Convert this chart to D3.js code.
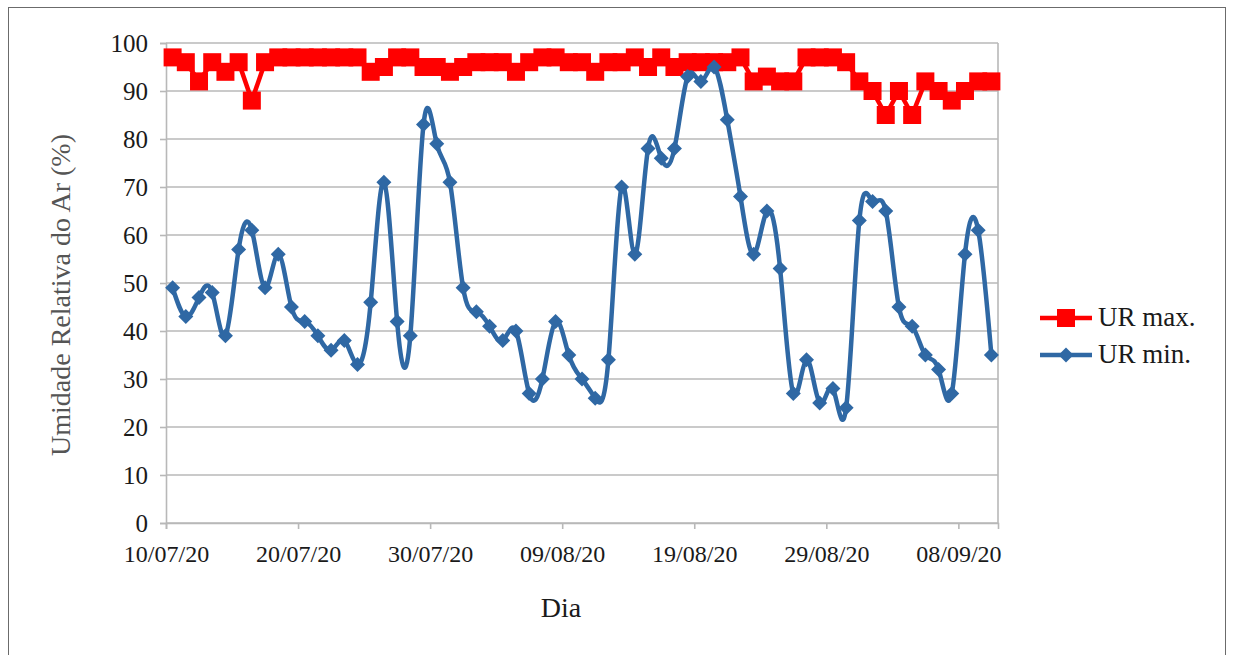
<!DOCTYPE html>
<html>
<head>
<meta charset="utf-8">
<script src="https://cdn.jsdelivr.net/npm/d3@7"></script>
<style>
  html, body { margin: 0; padding: 0; background: #fff; }
  svg { display: block; }
</style>
</head>
<body>
<svg id="chart" width="1234" height="655"></svg>
<script>
// Daily relative humidity, 10/07/2020 to 10/09/2020
const startDate = "10/07/20";
const urMax = [97, 96, 92, 96, 94, 96, 88, 96, 97, 97, 97, 97, 97, 97, 97, 94, 95, 97, 97, 95,
               95, 94, 95, 96, 96, 96, 94, 96, 97, 97, 96, 96, 94, 96, 96, 97, 95, 97, 95, 96,
               96, 96, 96, 97, 92, 93, 92, 92, 97, 97, 97, 96, 92, 90, 85, 90, 85, 92, 90, 88,
               90, 92, 92];
const urMin = [49, 43, 47, 48, 39, 57, 61, 49, 56, 45, 42, 39, 36, 38, 33, 46, 71, 42, 39, 83,
               79, 71, 49, 44, 41, 38, 40, 27, 30, 42, 35, 30, 26, 34, 70, 56, 78, 76, 78, 93,
               92, 95, 84, 68, 56, 65, 53, 27, 34, 25, 28, 24, 63, 67, 65, 45, 41, 35, 32, 27,
               56, 61, 35];
const xTickLabels = ["10/07/20", "20/07/20", "30/07/20", "09/08/20", "19/08/20", "29/08/20", "08/09/20"];
const yTicks = [0, 10, 20, 30, 40, 50, 60, 70, 80, 90, 100];
const seriesNames = ["UR max.", "UR min."];
const axisEnd = "11/09/20";

const FONT = "Liberation Serif";

const parse = d3.utcParse("%d/%m/%y");
const day0 = parse(startDate);
// each reading sits in the middle of its day
const dates = urMax.map((_, i) => d3.utcHour.offset(d3.utcDay.offset(day0, i), 12));

const svg = d3.select("#chart");
const plotLeft = 166, plotRight = 998, plotTop = 43, plotBottom = 523;

const x = d3.scaleUtc().domain([day0, parse(axisEnd)]).range([plotLeft, plotRight]);
const y = d3.scaleLinear().domain([0, 100]).range([plotBottom, plotTop]);

// outer frame
svg.append("rect").attr("x", 8.5).attr("y", 7.5).attr("width", 1217).attr("height", 660)
  .attr("fill", "none").attr("stroke", "#6b6b6b").attr("stroke-width", 1);

// horizontal grid
svg.append("g").selectAll("line").data(yTicks).join("line")
  .attr("x1", plotLeft).attr("x2", plotRight)
  .attr("y1", d => y(d)).attr("y2", d => y(d))
  .attr("stroke", "#b8b8b8").attr("stroke-width", 1.6);

// right edge of the plot
svg.append("line").attr("x1", plotRight).attr("x2", plotRight).attr("y1", plotTop).attr("y2", plotBottom)
  .attr("stroke", "#b8b8b8").attr("stroke-width", 1.6);

// y axis
const yAxis = svg.append("g").attr("transform", `translate(${plotLeft},0)`)
  .call(d3.axisLeft(y).tickValues(yTicks).tickSize(6).tickPadding(12));
yAxis.select(".domain").attr("stroke", "#b8b8b8").attr("stroke-width", 1.6);
yAxis.selectAll(".tick line").attr("stroke", "#b8b8b8").attr("stroke-width", 1.6);
yAxis.selectAll("text").attr("font-family", FONT).attr("font-size", 25).attr("fill", "#1a1a1a");

// x axis
const xAxis = svg.append("g").attr("transform", `translate(0,${plotBottom})`)
  .call(d3.axisBottom(x).tickValues(xTickLabels.map(parse))
    .tickFormat(d3.utcFormat("%d/%m/%y")).tickSize(6).tickPadding(16));
xAxis.select(".domain").attr("stroke", "#b8b8b8").attr("stroke-width", 1.6);
xAxis.selectAll(".tick line").attr("stroke", "#b8b8b8").attr("stroke-width", 1.6);
xAxis.selectAll("text").attr("font-family", FONT).attr("font-size", 24).attr("fill", "#1a1a1a");

// axis titles
svg.append("text").attr("transform", `translate(70,${(plotTop + plotBottom) / 2 + 12}) rotate(-90)`)
  .attr("text-anchor", "middle").attr("font-family", FONT).attr("font-size", 28).attr("fill", "#555")
  .text("Umidade Relativa do Ar (%)");
svg.append("text").attr("x", 561).attr("y", 617).attr("text-anchor", "middle")
  .attr("font-family", FONT).attr("font-size", 28).attr("fill", "#1a1a1a").text("Dia");

const red = "#ff0000", blue = "#2f68a4";

// UR max: straight segments with square markers
svg.append("path").datum(urMax)
  .attr("fill", "none").attr("stroke", red).attr("stroke-width", 4.5)
  .attr("d", d3.line().x((d, i) => x(dates[i])).y(d => y(d)));
const sq = 18;
svg.append("g").selectAll("rect").data(urMax).join("rect")
  .attr("x", (d, i) => x(dates[i]) - sq / 2).attr("y", d => y(d) - sq / 2)
  .attr("width", sq).attr("height", sq).attr("fill", red);

// UR min: smoothed curve with diamond markers
svg.append("path").datum(urMin)
  .attr("fill", "none").attr("stroke", blue).attr("stroke-width", 4.5)
  .attr("d", d3.line().curve(d3.curveNatural).x((d, i) => x(dates[i])).y(d => y(d)));
const dm = 7.5;
const diamond = (cx, cy) => `M${cx},${cy - dm}L${cx + dm},${cy}L${cx},${cy + dm}L${cx - dm},${cy}Z`;
svg.append("g").selectAll("path").data(urMin).join("path")
  .attr("d", (d, i) => diamond(x(dates[i]), y(d))).attr("fill", blue);

// legend
const legend = svg.append("g");
const ly = [318, 355];
legend.append("line").attr("x1", 1040).attr("x2", 1092).attr("y1", ly[0]).attr("y2", ly[0])
  .attr("stroke", red).attr("stroke-width", 4.5);
legend.append("rect").attr("x", 1066 - sq / 2).attr("y", ly[0] - sq / 2)
  .attr("width", sq).attr("height", sq).attr("fill", red);
legend.append("line").attr("x1", 1040).attr("x2", 1092).attr("y1", ly[1]).attr("y2", ly[1])
  .attr("stroke", blue).attr("stroke-width", 4.5);
legend.append("path").attr("d", diamond(1066, ly[1])).attr("fill", blue);
legend.selectAll("text").data(seriesNames).join("text")
  .attr("x", 1098).attr("y", (d, i) => ly[i] + 8)
  .attr("font-family", FONT).attr("font-size", 27).attr("fill", "#1a1a1a").text(d => d);
</script>
</body>
</html>
